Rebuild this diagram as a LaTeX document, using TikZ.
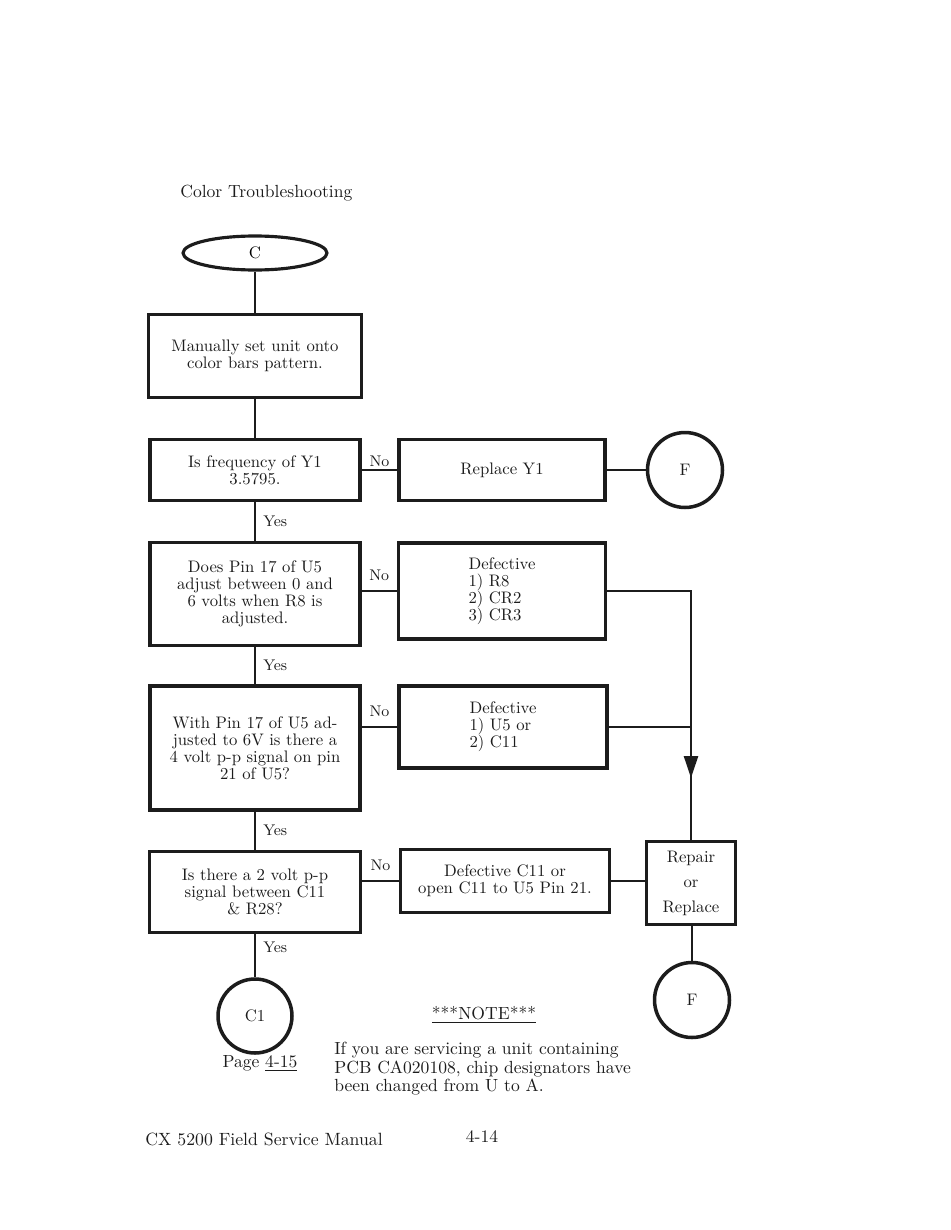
\documentclass[tikz,border=0pt]{standalone}
\usepackage{tikz}
\usetikzlibrary{shapes,arrows,arrows.meta}
\definecolor{scanBlack}{RGB}{28,28,28}

\begin{document}
\begin{tikzpicture}[x=0.02cm, y=-0.02cm]%
  \tikzset{box/.style={draw=scanBlack, rectangle, line width=2pt, text=scanBlack, align=center, inner sep=2pt, font=\fontsize{9.5}{9.7}\selectfont},
    conn/.style={draw, line width=1.4pt, scanBlack},
    ring/.style={draw=scanBlack, circle, line width=2pt, minimum size=1.5cm, text=scanBlack, font=\fontsize{9.5}{11}\selectfont},
    lbl/.style={text=scanBlack, inner sep=1pt, font=\fontsize{8.8}{10}\selectfont},
    txt/.style={text=scanBlack, inner sep=0pt, font=\fontsize{10}{10.4}\selectfont}}
  \useasboundingbox (0,0) rectangle (950,1230);

  \node[txt, anchor=west] at (180,193) (TITLE) {Color Troubleshooting};
  \node[draw=scanBlack, ellipse, line width=1.8pt, minimum width=2.88cm, minimum height=0.68cm, font=\fontsize{9.5}{11}\selectfont] at (255,253) (C) {C};

  \node[box, minimum width=4.26cm, minimum height=1.66cm] at (255,356) (SET) {Manually set unit onto\\color bars pattern.};
  \node[box, minimum width=4.2cm, minimum height=1.22cm] at (255,470) (Y1) {Is frequency of Y1\\3.5795.};
  \node[box, minimum width=4.12cm, minimum height=1.22cm] at (502,470) (RY1) {Replace Y1};
  \node[ring] at (685,470) (F1) {F};

  \node[box, minimum width=4.2cm, minimum height=2.06cm] at (255,594) (R8) {Does Pin 17 of U5\\adjust between 0 and\\6 volts when R8 is\\adjusted.};
  \node[box, align=left, minimum width=4.14cm, minimum height=1.92cm] at (502,591) (DEF1) {Defective\\1) R8\\2) CR2\\3) CR3};

  \node[box, minimum width=4.2cm, minimum height=2.48cm] at (255,748) (U5) {With Pin 17 of U5 ad-\\justed to 6V is there a\\4 volt p-p signal on pin\\21 of U5?};
  \node[box, align=left, minimum width=4.16cm, minimum height=1.64cm] at (503,727) (DEF2) {Defective\\1) U5 or\\2) C11};

  \node[box, minimum width=4.22cm, minimum height=1.62cm] at (255,892) (C11) {Is there a 2 volt p-p\\signal between C11\\\& R28?};
  \node[box, minimum width=4.18cm, minimum height=1.26cm] at (505,881) (DEF3) {Defective C11 or\\open C11 to U5 Pin 21.};
  \node[box, minimum width=1.78cm, minimum height=1.66cm, font=\fontsize{9.5}{14.2}\selectfont] at (691,883) (REP) {Repair\\or\\Replace};

  \node[ring, minimum size=1.48cm] at (255,1016) (C1) {C1};
  \node[ring] at (692,1000) (F2) {F};
  \coordinate (TIP) at (691,778);

  \path[conn] (C) -- (SET);
  \path[conn] (SET) -- (Y1);
  \path[conn] (Y1) -- node[lbl, above] {No} (RY1);
  \path[conn] (RY1) -- (F1);
  \path[conn] (Y1) -- node[lbl, right=3pt] {Yes} (R8);
  \path[conn] (R8.east |- DEF1.east) -- node[lbl, above=4pt] {No} (DEF1.east -| DEF1.west);
  \path[conn] (R8) -- node[lbl, right=3pt] {Yes} (U5);
  \path[conn] (U5.east |- DEF2.east) -- node[lbl, above=4pt] {No} (DEF2.west);
  \path[conn] (U5) -- node[lbl, right=3pt] {Yes} (C11);
  \path[conn] (C11.east |- DEF3.east) -- node[lbl, above=4pt] {No} (DEF3.west);
  \path[conn] (DEF3.east) -- (DEF3.east -| REP.west);
  \path[conn] (C11) -- node[lbl, right=3pt, pos=0.3] {Yes} (C1);
  \path[conn, -{Triangle[length=4.4mm, width=2.8mm]}] (DEF1.east) -| (TIP);
  \path[conn] (DEF2.east) -- (DEF2.east -| TIP);
  \path[conn] ([yshift=2mm]TIP) -- (REP.north -| TIP);
  \path[conn] (REP.south -| F2) -- (F2);

  \node[txt] at (260,1063) (PAGE) {Page \underline{4-15}};
  \node[txt] at (484,1015) (NOTE) {\underline{***NOTE***}};
  \node[txt, anchor=north west, align=left] at (334,1042) (NOTETXT) {If you are servicing a unit containing\\PCB CA020108, chip designators have\\been changed from U to A.};
  \node[txt, anchor=west, font=\fontsize{10.1}{12}\selectfont] at (145,1139) (FOOT) {CX 5200 Field Service Manual};
  \node[txt] at (482,1137) (PNUM) {4-14};
\end{tikzpicture}
\end{document}
